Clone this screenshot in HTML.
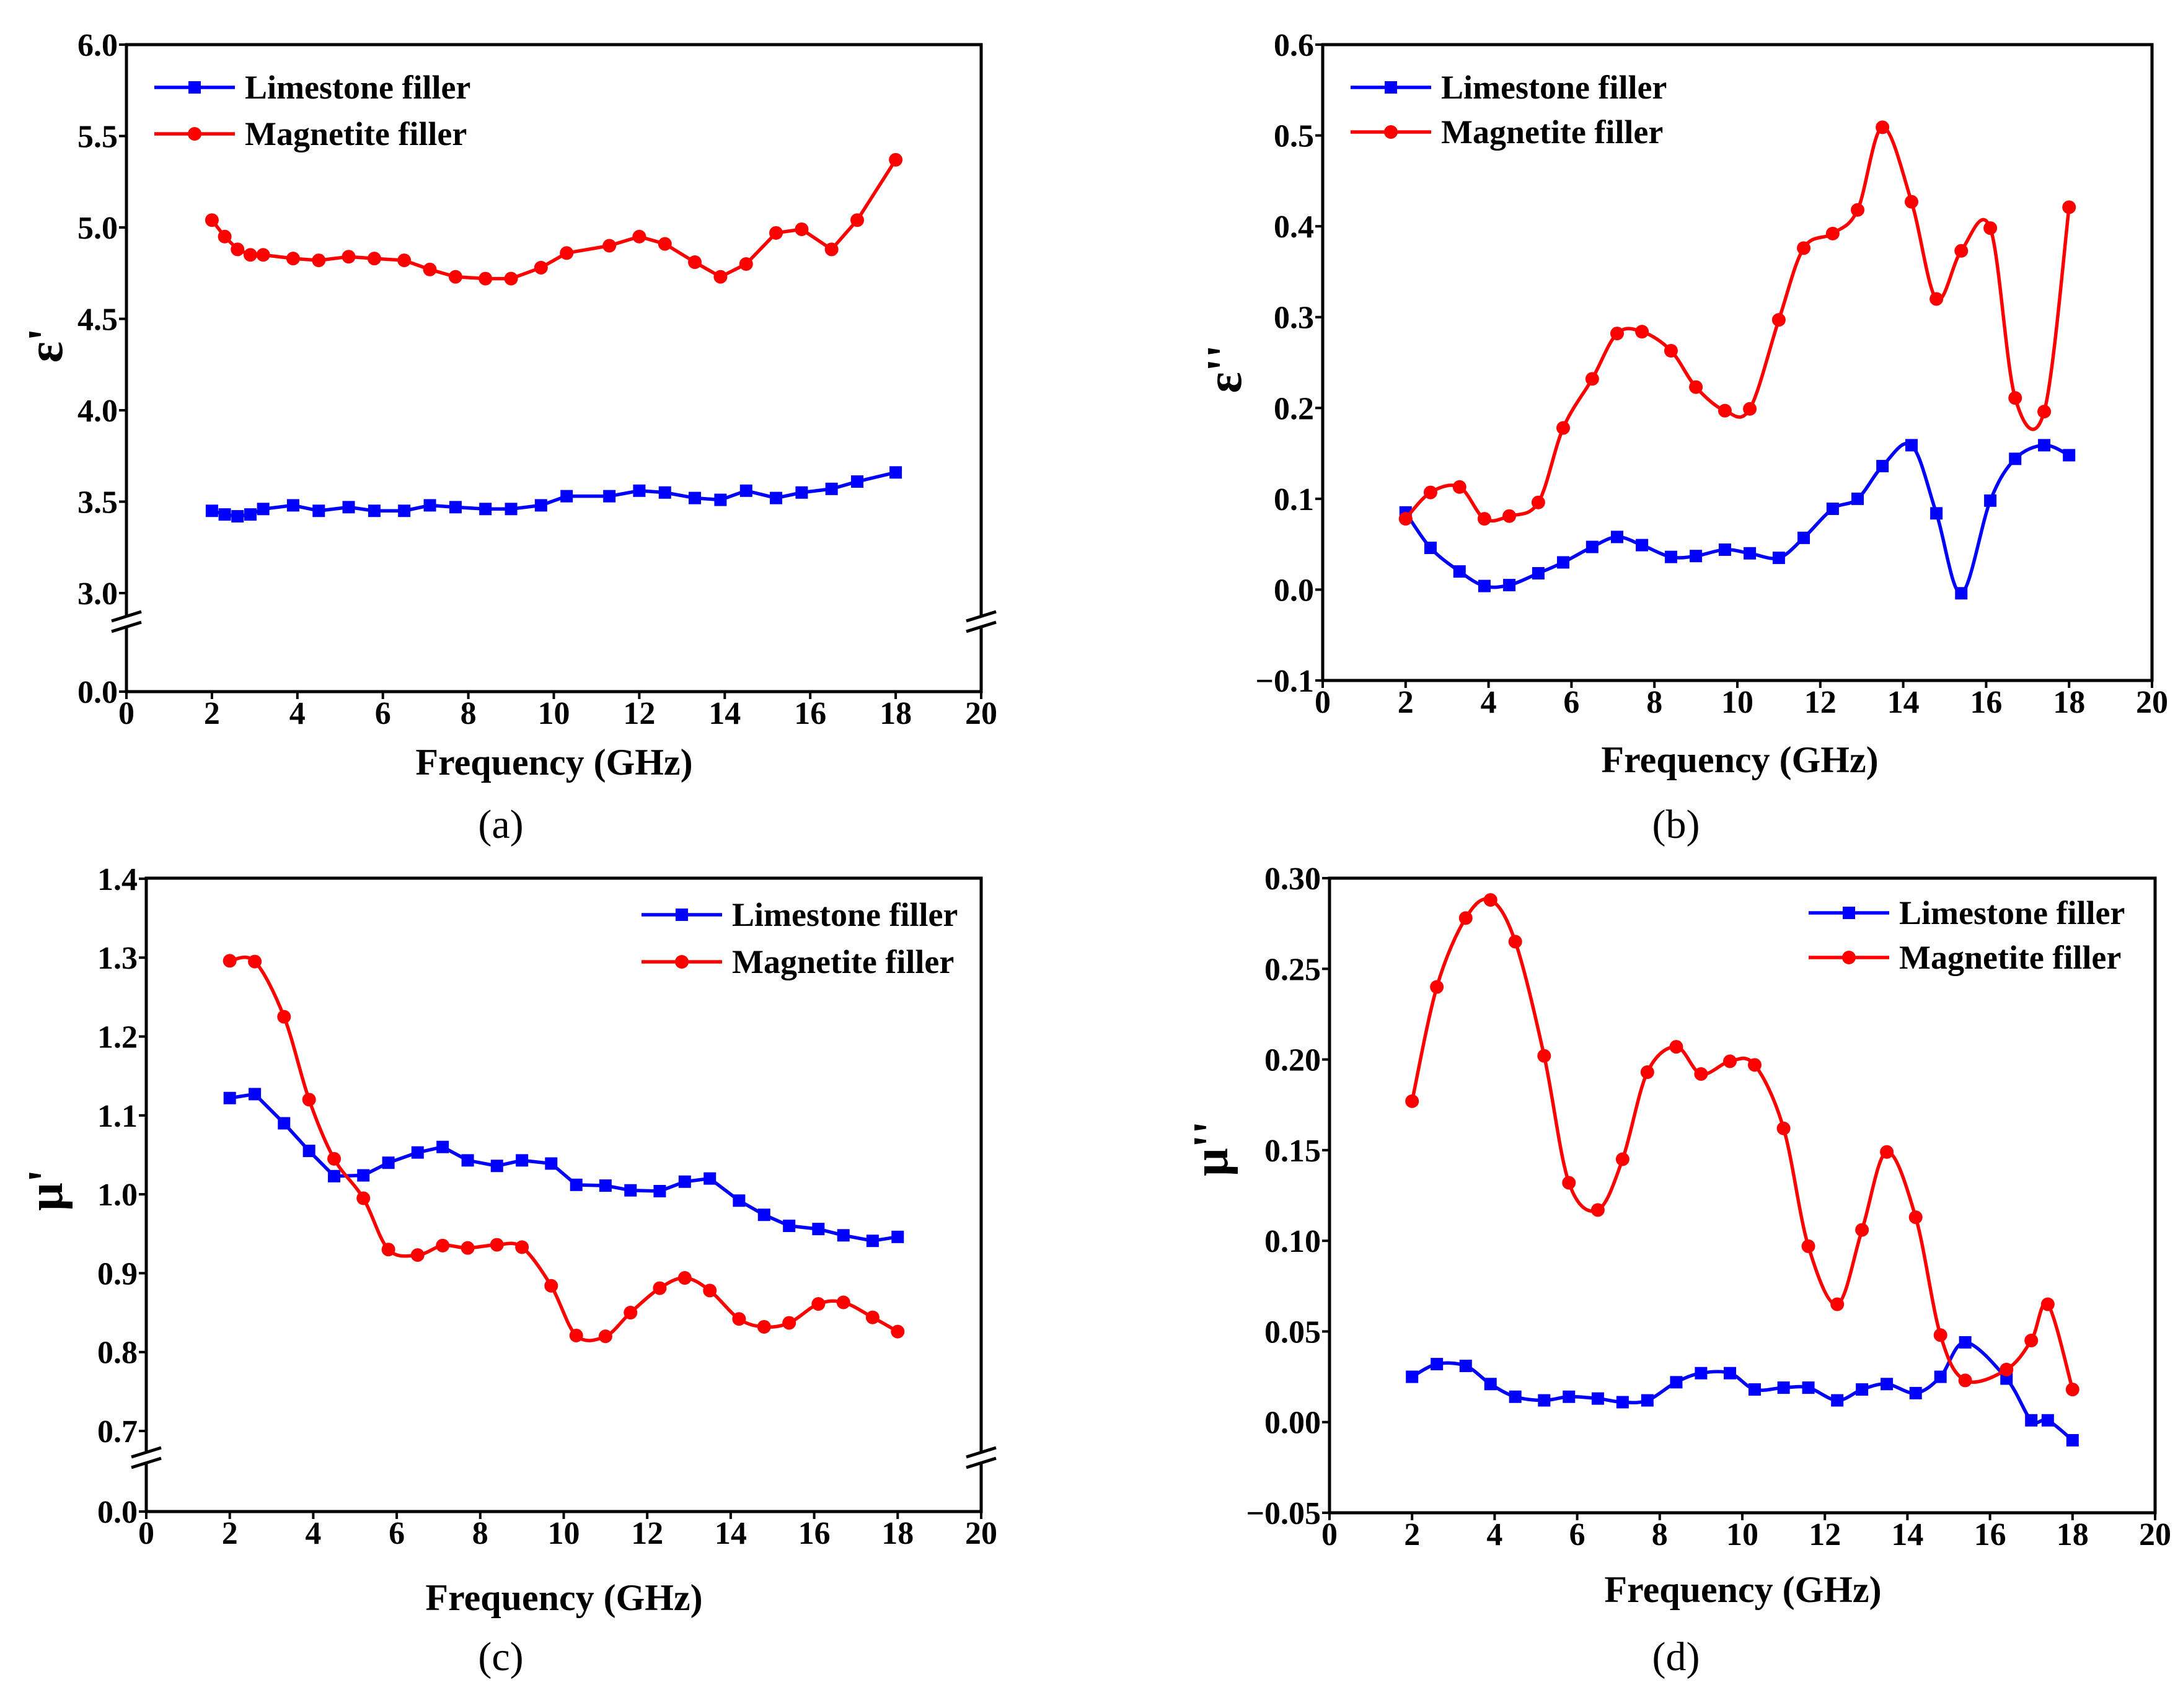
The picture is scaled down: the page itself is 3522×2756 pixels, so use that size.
<!DOCTYPE html>
<html><head><meta charset="utf-8"><style>
html,body{margin:0;padding:0;background:#fff}
svg text{font-family:"Liberation Serif",serif}
</style></head><body>
<svg id="fig" width="3522" height="2751" viewBox="0 0 3522 2751" xmlns="http://www.w3.org/2000/svg"></svg>
<script>
// Panel (a) data
const aX = [2,2.3,2.6,2.9,3.2,3.9,4.5,5.2,5.8,6.5,7.1,7.7,8.4,9.0,9.7,10.3,11.3,12.0,12.6,13.3,13.9,14.5,15.2,15.8,16.5,17.1,18];
const aLime = [3.45,3.43,3.42,3.43,3.46,3.48,3.45,3.47,3.45,3.45,3.48,3.47,3.46,3.46,3.48,3.53,3.53,3.56,3.55,3.52,3.51,3.56,3.52,3.55,3.57,3.61,3.66];
const aMag = [5.04,4.95,4.88,4.85,4.85,4.83,4.82,4.84,4.83,4.82,4.77,4.73,4.72,4.72,4.78,4.86,4.90,4.95,4.91,4.81,4.73,4.80,4.97,4.99,4.88,5.04,5.37];
const aYTicks = ["0.0","3.0","3.5","4.0","4.5","5.0","5.5","6.0"];
// Panel (b) data
const bX = [2,2.6,3.3,3.9,4.5,5.2,5.8,6.5,7.1,7.7,8.4,9.0,9.7,10.3,11.0,11.6,12.3,12.9,13.5,14.2,14.8,15.4,16.1,16.7,17.4,18];
const bLime = [0.085,0.046,0.020,0.004,0.005,0.018,0.030,0.047,0.058,0.049,0.036,0.037,0.044,0.040,0.035,0.057,0.089,0.100,0.136,0.159,0.084,-0.004,0.098,0.144,0.159,0.148];
const bMag = [0.078,0.107,0.113,0.078,0.081,0.096,0.178,0.232,0.282,0.284,0.263,0.223,0.197,0.199,0.297,0.376,0.392,0.418,0.509,0.427,0.320,0.373,0.398,0.211,0.196,0.421];
const bYTicks = ["\u22120.1","0.0","0.1","0.2","0.3","0.4","0.5","0.6"];
// Panel (c) data
const cX = [2,2.6,3.3,3.9,4.5,5.2,5.8,6.5,7.1,7.7,8.4,9.0,9.7,10.3,11.0,11.6,12.3,12.9,13.5,14.2,14.8,15.4,16.1,16.7,17.4,18];
const cLime = [1.122,1.127,1.090,1.055,1.023,1.024,1.040,1.053,1.060,1.043,1.036,1.043,1.039,1.012,1.011,1.005,1.004,1.016,1.020,0.992,0.974,0.960,0.956,0.948,0.941,0.946];
const cMag = [1.296,1.295,1.225,1.120,1.045,0.995,0.930,0.923,0.935,0.932,0.936,0.933,0.884,0.821,0.820,0.850,0.881,0.894,0.878,0.842,0.832,0.837,0.861,0.863,0.844,0.826];
const cYTicks = ["0.0","0.7","0.8","0.9","1.0","1.1","1.2","1.3","1.4"];
// Panel (d) data
const dX = [2,2.6,3.3,3.9,4.5,5.2,5.8,6.5,7.1,7.7,8.4,9.0,9.7,10.3,11.0,11.6,12.3,12.9,13.5,14.2,14.8,15.4,16.4,17.0,17.4,18];
const dLime = [0.025,0.032,0.031,0.021,0.014,0.012,0.014,0.013,0.011,0.012,0.022,0.027,0.027,0.018,0.019,0.019,0.012,0.018,0.021,0.016,0.025,0.044,0.024,0.001,0.001,-0.010];
const dMag = [0.177,0.240,0.278,0.288,0.265,0.202,0.132,0.117,0.145,0.193,0.207,0.192,0.199,0.197,0.162,0.097,0.065,0.106,0.149,0.113,0.048,0.023,0.029,0.045,0.065,0.018];
const dYTicks = ["\u22120.05","0.00","0.05","0.10","0.15","0.20","0.25","0.30"];
const xTicks = ["0","2","4","6","8","10","12","14","16","18","20"];

const NS="http://www.w3.org/2000/svg";
const svg=document.getElementById('fig');
function el(tag,attrs,parent){const e=document.createElementNS(NS,tag);for(const k in attrs)e.setAttribute(k,attrs[k]);(parent||svg).appendChild(e);return e;}
function txt(s,attrs,parent){const e=el('text',attrs,parent);e.textContent=s;return e;}

function smoothPath(pts){
  let d=`M${pts[0][0]},${pts[0][1]}`;
  for(let i=0;i<pts.length-1;i++){
    const p0=pts[i-1]||pts[i],p1=pts[i],p2=pts[i+1],p3=pts[i+2]||p2;
    const c1=[p1[0]+(p2[0]-p0[0])/6,p1[1]+(p2[1]-p0[1])/6];
    const c2=[p2[0]-(p3[0]-p1[0])/6,p2[1]-(p3[1]-p1[1])/6];
    d+=` C${c1[0]},${c1[1]} ${c2[0]},${c2[1]} ${p2[0]},${p2[1]}`;
  }
  return d;
}
function linePath(pts){return 'M'+pts.map(p=>p[0]+','+p[1]).join(' L');}

function panel(o){
  const g=el('g',{});
  
  
  const X=v=>o.x0+(v-0)/20*(o.x1-o.x0);
  const Y=o.yfn;
  const series=[
    {xs:o.xs,ys:o.mag,color:'#ff0000',shape:'circle',smooth:o.smoothMag,name:'magnetite'},
    {xs:o.xs,ys:o.lime,color:'#0000ff',shape:'square',smooth:o.smoothLime,name:'limestone'}];
  for(const s of [series[1],series[0]]){
    const pts=s.xs.map((x,i)=>[X(x),Y(s.ys[i])]);
    const p=el('path',{d:s.smooth?smoothPath(pts):linePath(pts),fill:'none',stroke:s.color,'stroke-width':5.5,'stroke-linejoin':'round'},g);
    
    
    pts.forEach(pt=>{
      let m;
      if(s.shape==='circle') m=el('circle',{cx:pt[0],cy:pt[1],r:11,fill:s.color},g);
      else m=el('rect',{x:pt[0]-10,y:pt[1]-10,width:20,height:20,fill:s.color},g);
      
      
    });
  }
  const fr=el('rect',{x:o.x0,y:o.y0,width:o.x1-o.x0,height:o.y1-o.y0,fill:'none',stroke:'#000','stroke-width':5},g);
  
  
  xTicks.forEach((t,i)=>{
    const x=X(i*2);
    el('line',{x1:x,y1:o.y1,x2:x,y2:o.y1+12,stroke:'#000','stroke-width':4},g);
    const tl=txt(t,{x:x,y:o.y1+52,'font-size':52,'font-weight':'bold','text-anchor':'middle'},g);
    
    
  });
  o.yTickVals.forEach((v,i)=>{
    const y=Y(v);
    el('line',{x1:o.x0-12,y1:y,x2:o.x0,y2:y,stroke:'#000','stroke-width':4},g);
    const tl=txt(o.yTicks[i],{x:o.x0-14,y:y+18,'font-size':52,'font-weight':'bold','text-anchor':'end'},g);
    
    
  });
  if(o.breakY){
    [o.x0,o.x1].forEach(bx=>{
      el('rect',{x:bx-8,y:o.breakY-8,width:16,height:16,fill:'#fff'},g);
      el('line',{x1:bx-24,y1:o.breakY-2,x2:bx+24,y2:o.breakY-17,stroke:'#000','stroke-width':5},g);
      el('line',{x1:bx-24,y1:o.breakY+15,x2:bx+24,y2:o.breakY,stroke:'#000','stroke-width':5},g);
    });
  }
  const xt=txt('Frequency (GHz)',{x:o.xtX,y:o.xtY,'font-size':60,'font-weight':'bold','text-anchor':'middle'},g);
  
  
  const yt=txt(o.ylabel,{x:0,y:0,'font-size':80,'font-weight':'bold','text-anchor':'middle',transform:`translate(${o.ytX},${o.ytY}) rotate(-90)`},g);
  
  
  const pl=txt(o.letter,{x:o.plX,y:o.plY,'font-size':66,'text-anchor':'middle'},g);
  
  
  [['Limestone filler','#0000ff','square',o.lgY1],['Magnetite filler','#ff0000','circle',o.lgY2]].forEach(([lab,c,sh,y])=>{
    const lg=el('g',{},g);
    
    
    el('line',{x1:o.lgX0,y1:y,x2:o.lgX0+130,y2:y,stroke:c,'stroke-width':5.5},lg);
    if(sh==='circle') el('circle',{cx:o.lgX0+65,cy:y,r:11,fill:c},lg);
    else el('rect',{x:o.lgX0+55,y:y-10,width:20,height:20,fill:c},lg);
    txt(lab,{x:o.lgX0+146,y:y+18,'font-size':54,'font-weight':'bold'},lg);
  });
}

panel({name:'panel-a',x0:204,x1:1583,y0:72,y1:1116,xs:aX,lime:aLime,mag:aMag,
  yfn:v=>v<1?1116:(v<=6? 957-(v-3)/0.5*147.5 : 72),
  yTickVals:[0,3,3.5,4,4.5,5,5.5,6],yTicks:aYTicks,breakY:1004,
  xtX:894,xtY:1250,ylabel:"\u03b5'",ytX:100,ytY:557,letter:'(a)',plX:808,plY:1352,
  lgX0:249,lgY1:141,lgY2:216,smoothLime:false,smoothMag:false});
panel({name:'panel-b',x0:2134,x1:3472,y0:72,y1:1098,xs:bX,lime:bLime,mag:bMag,
  yfn:v=>72+(0.6-v)/0.7*(1098-72),
  yTickVals:[-0.1,0,0.1,0.2,0.3,0.4,0.5,0.6],yTicks:bYTicks,
  xtX:2807,xtY:1246,ylabel:"\u03b5''",ytX:2002,ytY:595,letter:'(b)',plX:2704,plY:1352,
  lgX0:2179,lgY1:141,lgY2:213,smoothLime:true,smoothMag:true});
panel({name:'panel-c',x0:236,x1:1583,y0:1417,y1:2439,xs:cX,lime:cLime,mag:cMag,
  yfn:v=>v<0.5?2439:2309-(v-0.7)/0.1*127.3,
  yTickVals:[0,0.7,0.8,0.9,1.0,1.1,1.2,1.3,1.4],yTicks:cYTicks,breakY:2353,
  xtX:910,xtY:2598,ylabel:"\u03bc'",ytX:100,ytY:1920,letter:'(c)',plX:808,plY:2695,
  lgX0:1035,lgY1:1476,lgY2:1552,smoothLime:false,smoothMag:true});
panel({name:'panel-d',x0:2145,x1:3477,y0:1417,y1:2441,xs:dX,lime:dLime,mag:dMag,
  yfn:v=>1417+(0.30-v)/0.35*(2441-1417),
  yTickVals:[-0.05,0,0.05,0.10,0.15,0.20,0.25,0.30],yTicks:dYTicks,
  xtX:2812,xtY:2585,ylabel:"\u03bc''",ytX:1980,ytY:1853,letter:'(d)',plX:2704,plY:2695,
  lgX0:2918,lgY1:1473,lgY2:1545,smoothLime:true,smoothMag:true});
</script>
</body></html>
